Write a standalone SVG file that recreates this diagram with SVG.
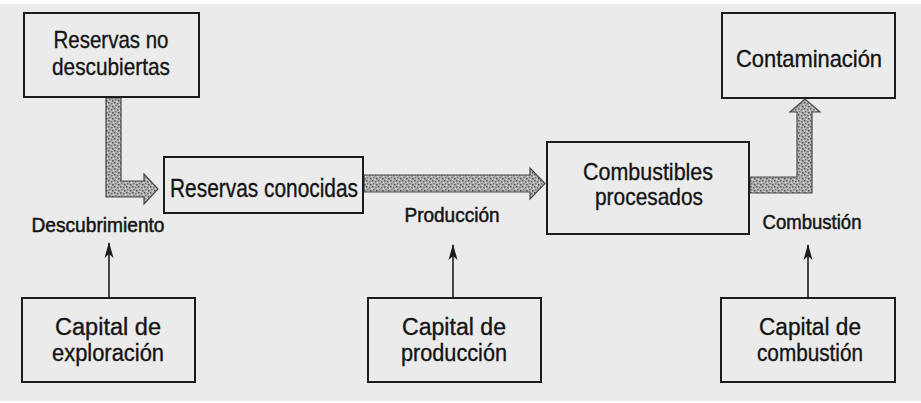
<svg xmlns="http://www.w3.org/2000/svg" width="921" height="403" viewBox="0 0 921 403">
  <defs>
    <style>
      .box { fill: #ebebeb; stroke: #1c1c1c; stroke-width: 2; }
      .t { font-family: "Liberation Sans", Arial, sans-serif; fill: #141414; stroke: #141414; stroke-width: 0.35; text-anchor: middle; }
      .tb { font-size: 24px; }
      .tc { font-size: 23px; }
      .lbl { font-size: 20px; stroke-width: 0.5; }
      .flow { fill: url(#tex); stroke: #4a4a4a; stroke-width: 1.2; stroke-linejoin: miter; }
      .thin { stroke: #1c1c1c; stroke-width: 1.6; fill: none; marker-end: url(#ah); }
    </style>
    <pattern id="tex" width="6" height="6" patternUnits="userSpaceOnUse">
      <rect width="6" height="6" fill="#b4b4b4"/>
      <rect x="0" y="0" width="1.5" height="1.5" fill="#5a5a5a"/>
      <rect x="3" y="1" width="1.5" height="1.5" fill="#6e6e6e"/>
      <rect x="1" y="3" width="1.5" height="1.5" fill="#7a7a7a"/>
      <rect x="4" y="4" width="1.5" height="1.5" fill="#505050"/>
      <rect x="2" y="5" width="1" height="1" fill="#dcdcdc"/>
      <rect x="5" y="2" width="1" height="1" fill="#e0e0e0"/>
    </pattern>
    <marker id="ah" viewBox="0 0 16 10" refX="15" refY="5" markerWidth="16" markerHeight="10" markerUnits="userSpaceOnUse" orient="auto">
      <path d="M0,0.5 L16,5 L0,9.5 L4,5 Z" fill="#1c1c1c"/>
    </marker>
  </defs>

  <rect x="0" y="0" width="921" height="403" fill="#ebebeb"/>
  <rect x="0" y="0" width="921" height="4" fill="#ffffff"/>
  <rect x="0" y="401" width="921" height="2" fill="#ffffff"/>

  <g id="connectors">
    <path class="flow" d="M106,98 L121,98 L121,181 L144,181 L144,174 L158,189 L144,204 L144,197 L106,197 Z"/>
    <path class="flow" d="M364,175 L530,175 L530,168 L545,183.5 L530,199 L530,192 L364,192 Z"/>
    <path class="flow" d="M750,177 L797,177 L797,112 L790,112 L805,99 L820,112 L812,112 L812,193 L750,193 Z"/>
    <line class="thin" x1="109" y1="297" x2="109" y2="243"/>
    <line class="thin" x1="453" y1="297" x2="453" y2="245"/>
    <line class="thin" x1="808" y1="297" x2="808" y2="245"/>
  </g>

  <g id="reservas-no-descubiertas">
    <rect class="box" x="24" y="13" width="175" height="84"/>
    <text class="t tb" x="111" y="48" textLength="115" lengthAdjust="spacingAndGlyphs">Reservas no</text>
    <text class="t tb" x="111" y="75" textLength="118" lengthAdjust="spacingAndGlyphs">descubiertas</text>
  </g>

  <g id="reservas-conocidas">
    <rect class="box" x="164" y="157" width="199" height="56"/>
    <text class="t tb" x="264" y="197" style="font-size:26px" textLength="188" lengthAdjust="spacingAndGlyphs">Reservas conocidas</text>
  </g>

  <g id="combustibles-procesados">
    <rect class="box" x="547" y="142" width="202" height="92"/>
    <text class="t tb" x="648" y="180" textLength="130" lengthAdjust="spacingAndGlyphs">Combustibles</text>
    <text class="t tb" x="649" y="205" textLength="108" lengthAdjust="spacingAndGlyphs">procesados</text>
  </g>

  <g id="contaminacion">
    <rect class="box" x="722" y="13" width="173" height="85"/>
    <text class="t tb" x="809" y="67" textLength="146" lengthAdjust="spacingAndGlyphs">Contaminación</text>
  </g>

  <g id="capital-exploracion">
    <rect class="box" x="22" y="298" width="173" height="84"/>
    <text class="t tc" x="108" y="335" textLength="106" lengthAdjust="spacingAndGlyphs">Capital de</text>
    <text class="t tc" x="108" y="361" textLength="112" lengthAdjust="spacingAndGlyphs">exploración</text>
  </g>

  <g id="capital-produccion">
    <rect class="box" x="368" y="298" width="173" height="84"/>
    <text class="t tc" x="454" y="335" textLength="104" lengthAdjust="spacingAndGlyphs">Capital de</text>
    <text class="t tc" x="454" y="361" textLength="106" lengthAdjust="spacingAndGlyphs">producción</text>
  </g>

  <g id="capital-combustion">
    <rect class="box" x="721" y="298" width="174" height="84"/>
    <text class="t tc" x="810" y="335" textLength="102" lengthAdjust="spacingAndGlyphs">Capital de</text>
    <text class="t tc" x="810" y="361" textLength="106" lengthAdjust="spacingAndGlyphs">combustión</text>
  </g>

  <g id="labels">
    <text class="t lbl" x="98" y="232" textLength="133" lengthAdjust="spacingAndGlyphs">Descubrimiento</text>
    <text class="t lbl" x="452" y="222" textLength="95" lengthAdjust="spacingAndGlyphs">Producción</text>
    <text class="t lbl" x="812" y="229" textLength="99" lengthAdjust="spacingAndGlyphs">Combustión</text>
  </g>
</svg>
